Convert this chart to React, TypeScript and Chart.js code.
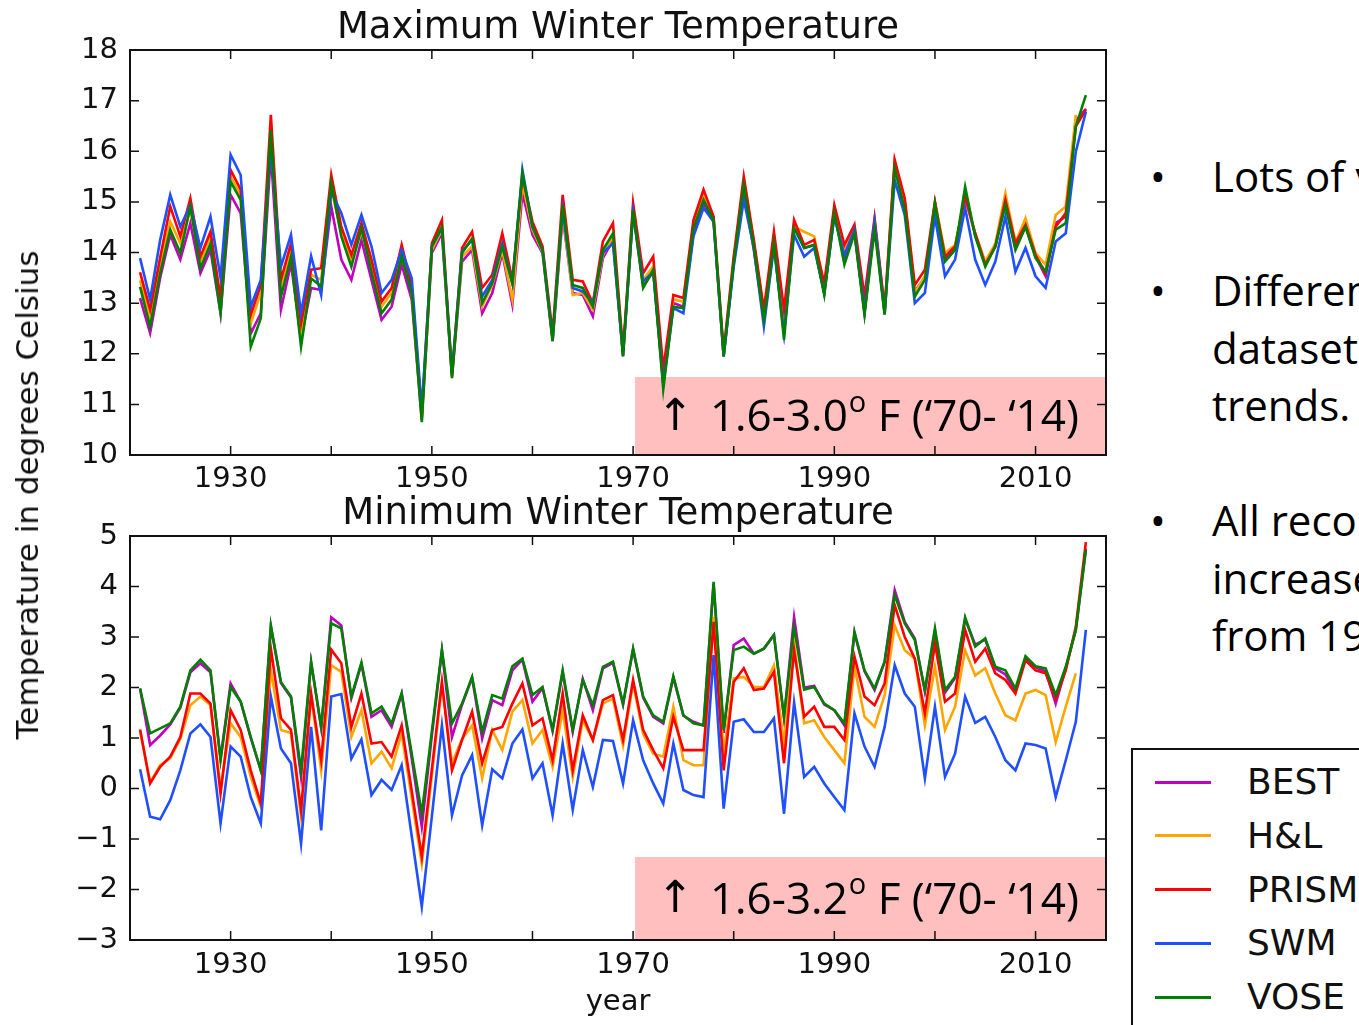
import React, { useEffect, useRef } from 'react';
import { Chart, registerables } from 'chart.js';

Chart.register(...registerables);

const YEARS = Array.from({ length: 95 }, (_, i) => 1921 + i);

const SERIES_NAMES = ['BEST', 'H&L', 'PRISM', 'SWM', 'VOSE'];
const SERIES_COLORS = ['#bf00bf', '#ffa500', '#ff0000', '#1f4fff', '#008000'];

const X_TICK_LABELS = [1930, 1950, 1970, 1990, 2010];

// ---- Maximum winter temperature (deg C), 1921-2015 ----
const MAX_BEST = [13.10, 12.41, 13.5, 14.35, 13.86, 14.58, 13.59, 14.05, 12.8, 15.14, 14.78, 12.4, 12.8, 15.96, 12.87, 13.79, 12.28, 13.3, 13.26, 14.91, 13.86, 13.46, 14.25, 13.46, 12.67, 12.93, 13.76, 13.07, 10.7, 13.99, 14.38, 11.55, 13.82, 14.05, 12.8, 13.2, 13.99, 12.97, 15.17, 14.35, 13.99, 12.25, 14.71, 13.2, 13.16, 12.74, 13.89, 14.25, 11.95, 14.78, 13.33, 13.62, 11.45, 13.0, 12.93, 14.38, 14.97, 14.61, 11.95, 13.79, 15.24, 14.05, 12.67, 14.15, 12.41, 14.55, 14.09, 14.15, 13.2, 14.75, 13.86, 14.41, 12.8, 14.58, 12.8, 15.75, 15.0, 13.24, 13.5, 14.97, 13.86, 14.09, 15.1, 14.35, 13.79, 14.12, 14.97, 14.09, 14.51, 13.92, 13.53, 14.58, 14.71, 16.6, 16.84];
const MAX_HL = [13.45, 12.74, 13.8, 14.61, 14.18, 14.84, 13.82, 14.32, 13.0, 15.5, 15.14, 12.6, 13.2, 16.3, 13.33, 14.09, 12.41, 13.56, 13.46, 15.27, 14.38, 13.86, 14.41, 13.72, 12.93, 13.2, 13.92, 13.25, 10.75, 14.05, 14.45, 11.55, 13.92, 14.12, 12.93, 13.36, 14.05, 13.07, 15.37, 14.45, 14.02, 12.3, 14.78, 13.16, 13.2, 12.87, 13.95, 14.32, 11.98, 14.9, 13.46, 13.72, 11.55, 13.07, 13.03, 14.51, 15.1, 14.68, 11.98, 13.86, 15.4, 14.18, 12.8, 14.25, 12.54, 14.51, 14.41, 14.32, 13.33, 14.85, 14.05, 14.45, 13.0, 14.64, 12.85, 15.78, 14.91, 13.2, 13.53, 15.0, 13.99, 14.15, 15.07, 14.38, 13.82, 14.18, 15.17, 14.2, 14.68, 13.99, 13.76, 14.74, 14.91, 16.72, null];
const MAX_PRISM = [13.61, 12.87, 13.9, 14.91, 14.32, 15.07, 13.92, 14.41, 13.1, 15.63, 15.24, 12.77, 13.36, 16.72, 13.46, 14.18, 12.6, 13.66, 13.69, 15.53, 14.51, 13.95, 14.58, 13.86, 13.03, 13.3, 14.15, 13.33, 10.8, 14.18, 14.64, 11.6, 14.09, 14.41, 13.3, 13.56, 14.38, 13.46, 15.5, 14.61, 14.12, 12.4, 15.14, 13.46, 13.43, 13.0, 14.22, 14.58, 12.05, 14.97, 13.59, 13.92, 11.7, 13.16, 13.1, 14.64, 15.24, 14.71, 12.05, 13.92, 15.5, 14.25, 12.87, 14.41, 12.87, 14.64, 14.15, 14.25, 13.39, 14.94, 14.15, 14.55, 13.13, 14.68, 12.9, 15.83, 15.07, 13.36, 13.66, 15.0, 13.92, 14.12, 15.1, 14.38, 13.76, 14.12, 15.04, 14.18, 14.55, 13.95, 13.59, 14.51, 14.78, 16.49, 16.82];
const MAX_SWM = [13.89, 13.07, 14.25, 15.14, 14.51, 14.94, 14.09, 14.71, 13.5, 15.93, 15.53, 12.93, 13.46, 16.06, 13.72, 14.35, 12.8, 13.93, 13.16, 15.2, 14.78, 14.15, 14.74, 14.12, 13.2, 13.46, 14.05, 13.49, 10.9, 14.12, 14.48, 11.6, 14.02, 14.25, 13.13, 13.46, 14.18, 13.39, 15.63, 14.51, 14.05, 12.3, 14.85, 13.3, 13.23, 13.0, 13.99, 14.18, 11.98, 14.8, 13.43, 13.62, 11.4, 12.9, 12.8, 14.32, 14.88, 14.61, 11.95, 13.72, 15.04, 14.09, 12.54, 14.12, 12.41, 14.35, 13.92, 14.09, 13.2, 14.71, 13.95, 14.45, 12.85, 14.61, 12.8, 15.43, 14.74, 13.0, 13.2, 14.71, 13.53, 13.86, 14.88, 13.86, 13.36, 13.82, 14.71, 13.62, 14.09, 13.53, 13.3, 14.22, 14.38, 15.99, 16.78];
const MAX_VOSE = [13.32, 12.54, 13.6, 14.45, 13.99, 14.91, 13.69, 14.18, 12.8, 15.4, 15.04, 12.14, 12.7, 16.42, 13.13, 13.92, 12.14, 13.49, 13.33, 15.37, 14.32, 13.72, 14.48, 13.62, 12.8, 13.07, 13.92, 13.2, 10.65, 14.12, 14.51, 11.52, 13.99, 14.28, 13.0, 13.39, 14.12, 13.39, 15.57, 14.51, 14.05, 12.25, 14.94, 13.36, 13.3, 12.93, 14.05, 14.38, 11.95, 14.84, 13.3, 13.66, 11.3, 12.93, 12.9, 14.48, 15.04, 14.64, 11.95, 13.79, 15.34, 14.12, 12.67, 14.18, 12.28, 14.48, 14.09, 14.15, 13.16, 14.78, 13.76, 14.38, 12.77, 14.45, 12.77, 15.66, 14.84, 13.13, 13.46, 14.97, 13.82, 14.05, 15.3, 14.32, 13.72, 14.12, 14.94, 14.05, 14.51, 13.89, 13.62, 14.45, 14.58, 16.49, 17.11];

// ---- Minimum winter temperature (deg C), 1921-2015 ----
const MIN_BEST = [1.98, 0.86, 1.05, 1.27, 1.6, 2.3, 2.48, 2.3, 0.6, 2.08, 1.72, 1.0, 0.36, 3.2, 2.09, 1.8, 0.23, 2.5, 1.2, 3.39, 3.23, 1.79, 2.47, 1.42, 1.55, 1.22, 1.87, 0.6, -0.76, 1.05, 2.72, 1.02, 1.66, 2.19, 0.99, 1.75, 1.65, 2.34, 2.55, 1.72, 1.99, 1.14, 2.3, 1.12, 2.17, 1.55, 2.38, 2.49, 1.66, 2.75, 1.8, 1.42, 1.29, 2.2, 1.44, 1.32, 1.25, 4.05, 1.1, 2.84, 2.97, 2.67, 2.77, 3.04, 1.4, 3.39, 2.0, 2.03, 1.66, 1.55, 1.25, 3.08, 2.32, 1.95, 2.51, 3.93, 3.3, 2.97, 1.92, 3.12, 1.9, 2.19, 3.35, 2.85, 2.95, 2.38, 2.26, 1.92, 2.59, 2.4, 2.32, 1.68, 2.38, 3.14, 4.75];
const MIN_HL = [1.15, 0.12, 0.46, 0.6, 0.98, 1.65, 1.82, 1.65, 0.0, 1.29, 1.02, 0.23, -0.36, 2.34, 1.16, 1.1, -0.56, 1.85, 0.36, 2.44, 2.31, 1.02, 1.55, 0.5, 0.73, 0.4, 1.09, -0.2, -1.49, 0.26, 2.05, 0.5, 0.98, 1.25, 0.2, 1.16, 0.76, 1.52, 1.75, 0.89, 1.16, 0.43, 1.55, 0.23, 1.35, 0.96, 1.68, 1.78, 0.85, 2.08, 1.08, 0.69, 0.63, 1.62, 0.56, 0.46, 0.46, 3.4, 0.7, 2.18, 2.21, 2.01, 2.01, 2.44, 0.89, 2.87, 1.29, 1.35, 1.02, 0.76, 0.5, 2.41, 1.42, 1.22, 1.85, 3.23, 2.74, 2.57, 1.25, 2.41, 1.16, 1.62, 2.74, 2.24, 2.38, 1.88, 1.45, 1.35, 1.88, 1.95, 1.85, 0.92, 1.62, 2.28, null];
const MIN_PRISM = [1.17, 0.1, 0.43, 0.63, 1.02, 1.88, 1.88, 1.68, -0.1, 1.55, 1.16, 0.36, -0.3, 2.77, 1.39, 1.16, -0.43, 1.88, 0.56, 2.75, 2.48, 1.22, 1.88, 0.89, 0.92, 0.63, 1.25, -0.05, -1.35, 0.38, 2.11, 0.36, 0.96, 1.52, 0.5, 1.16, 1.22, 1.68, 2.08, 1.25, 1.39, 0.56, 1.88, 0.36, 1.45, 0.96, 1.75, 1.85, 0.96, 2.15, 1.16, 0.76, 0.4, 1.42, 0.76, 0.76, 0.76, 3.3, 0.36, 2.11, 2.38, 1.95, 1.98, 2.31, 0.5, 2.74, 1.42, 1.62, 1.22, 1.22, 0.96, 2.61, 1.82, 1.65, 2.08, 3.63, 3.0, 2.57, 1.49, 2.87, 1.72, 1.88, 3.14, 2.51, 2.77, 2.28, 2.15, 1.88, 2.54, 2.34, 2.28, 1.78, 2.34, 3.2, 4.88];
const MIN_SWM = [0.38, -0.56, -0.61, -0.23, 0.36, 1.09, 1.27, 1.02, -0.69, 0.83, 0.63, -0.17, -0.69, 1.82, 0.79, 0.5, -1.09, 1.22, -0.83, 1.82, 1.87, 0.59, 0.97, -0.13, 0.17, -0.03, 0.46, -0.94, -2.34, -0.55, 1.25, -0.53, 0.26, 0.66, -0.73, 0.38, 0.2, 0.89, 1.17, 0.2, 0.5, -0.53, 0.89, -0.42, 0.76, 0.03, 0.96, 0.94, 0.1, 1.35, 0.56, 0.1, -0.3, 0.89, -0.03, -0.13, -0.17, 2.64, -0.4, 1.32, 1.37, 1.12, 1.12, 1.39, -0.5, 1.7, 0.23, 0.43, 0.1, -0.17, -0.43, 1.49, 0.83, 0.43, 1.22, 2.44, 1.88, 1.62, 0.2, 1.62, 0.23, 0.69, 1.82, 1.3, 1.42, 1.02, 0.56, 0.36, 0.89, 0.86, 0.79, -0.17, 0.56, 1.32, 3.14];
const MIN_VOSE = [1.98, 1.09, 1.19, 1.29, 1.62, 2.34, 2.55, 2.34, 0.56, 2.01, 1.72, 1.02, 0.36, 3.23, 2.11, 1.82, 0.36, 2.51, 1.22, 3.27, 3.17, 1.82, 2.49, 1.49, 1.62, 1.29, 1.89, 0.69, -0.5, 1.13, 2.75, 1.29, 1.68, 2.21, 1.12, 1.85, 1.78, 2.42, 2.57, 1.85, 2.01, 1.16, 2.34, 1.16, 2.15, 1.65, 2.41, 2.51, 1.68, 2.77, 1.82, 1.45, 1.32, 2.22, 1.45, 1.29, 1.25, 4.09, 1.16, 2.74, 2.81, 2.67, 2.77, 3.04, 1.42, 3.2, 1.96, 2.01, 1.68, 1.55, 1.29, 3.1, 2.34, 1.98, 2.51, 3.83, 3.27, 2.94, 1.95, 3.17, 1.95, 2.21, 3.39, 2.81, 2.97, 2.41, 2.34, 1.98, 2.62, 2.42, 2.38, 1.85, 2.41, 3.14, 4.72];

const MAX_SERIES = [MAX_BEST, MAX_HL, MAX_PRISM, MAX_SWM, MAX_VOSE];
const MIN_SERIES = [MIN_BEST, MIN_HL, MIN_PRISM, MIN_SWM, MIN_VOSE];

const BULLETS = [
  ['Lots of variability'],
  ['Different gridded', 'datasets show different', 'trends.'],
  ['All records show', 'increase in temperature', 'from 1970'],
];

const AXIS_FONT = 'DejaVu Sans';
const INK = '#111';

const framePlugin = {
  id: 'mplFrame',
  afterDatasetsDraw(chart: any) {
    const { ctx, chartArea: a, scales } = chart;
    const L = 9;
    ctx.save();
    ctx.strokeStyle = INK;
    ctx.lineWidth = 1.5;
    ctx.beginPath();
    scales.x.ticks.forEach((t: any) => {
      const px = scales.x.getPixelForValue(t.value);
      if (px <= a.left + 1 || px >= a.right - 1) return;
      ctx.moveTo(px, a.bottom);
      ctx.lineTo(px, a.bottom - L);
      ctx.moveTo(px, a.top);
      ctx.lineTo(px, a.top + L);
    });
    scales.y.ticks.forEach((t: any) => {
      const py = scales.y.getPixelForValue(t.value);
      if (py <= a.top + 1 || py >= a.bottom - 1) return;
      ctx.moveTo(a.left, py);
      ctx.lineTo(a.left + L, py);
      ctx.moveTo(a.right, py);
      ctx.lineTo(a.right - L, py);
    });
    ctx.stroke();
    ctx.lineWidth = 2;
    ctx.strokeRect(a.left, a.top, a.right - a.left, a.bottom - a.top);
    ctx.restore();
  },
};

type PanelProps = {
  title: string;
  series: (number | null)[][];
  yMin: number;
  yMax: number;
  top: number;
  height: number;
  areaBottom: number;
  titlePad: { top: number; bottom: number };
  xTickPad: number;
  xTitle?: string;
};

function Panel(p: PanelProps) {
  const ref = useRef<HTMLCanvasElement>(null);
  useEffect(() => {
    const font = { family: AXIS_FONT, size: 29 };
    const chart = new Chart(ref.current as HTMLCanvasElement, {
      type: 'line',
      data: {
        datasets: p.series.map((vals, i) => ({
          label: SERIES_NAMES[i],
          data: YEARS.map((yr, j) => ({ x: yr, y: vals[j] })),
          borderColor: SERIES_COLORS[i],
          backgroundColor: SERIES_COLORS[i],
          borderWidth: 2.6,
          pointRadius: 0,
          tension: 0,
          fill: false,
          order: 5 - i,
        })),
      },
      options: {
        responsive: false,
        animation: false,
        events: [],
        layout: { padding: { left: 0, right: 14, top: 0, bottom: 0 } },
        plugins: {
          legend: { display: false },
          tooltip: { enabled: false },
          title: {
            display: true,
            text: p.title,
            fullSize: false,
            color: INK,
            font: { family: AXIS_FONT, size: 37, weight: 'normal', lineHeight: 1.1 },
            padding: p.titlePad,
          },
        },
        scales: {
          x: {
            type: 'linear',
            min: 1920,
            max: 2017,
            grid: { display: false, drawTicks: false },
            border: { display: false },
            ticks: {
              stepSize: 10,
              includeBounds: false,
              autoSkip: false,
              maxRotation: 0,
              padding: p.xTickPad,
              color: INK,
              font,
              callback: (v: any) => (X_TICK_LABELS.includes(Number(v)) ? String(v) : ''),
            },
            title: p.xTitle
              ? { display: true, text: p.xTitle, color: INK, font, padding: { top: 0, bottom: 5 } }
              : { display: false },
            afterFit: (s: any) => {
              s.height = p.height - (p.areaBottom - p.top);
            },
          },
          y: {
            type: 'linear',
            min: p.yMin,
            max: p.yMax,
            grid: { display: false, drawTicks: false },
            border: { display: false },
            ticks: {
              stepSize: 1,
              padding: 12,
              color: INK,
              font,
              callback: (v: any) => (Number(v) < 0 ? '\u2212' + Math.abs(Number(v)) : String(v)),
            },
            afterFit: (s: any) => {
              s.width = 130;
            },
          },
        },
      } as any,
      plugins: [framePlugin],
    });
    return () => chart.destroy();
  }, []);
  return (
    <canvas
      ref={ref}
      width={1120}
      height={p.height}
      style={{ position: 'absolute', left: 0, top: p.top, width: 1120, height: p.height, display: 'block' }}
    />
  );
}

const SLIDE_FONT = '"Open Sans", Lato, sans-serif';

function Annotation({ top, height, text }: { top: number; height: number; text: string }) {
  return (
    <div
      style={{
        position: 'absolute',
        left: 657,
        top,
        height,
        display: 'flex',
        alignItems: 'center',
        fontFamily: SLIDE_FONT,
        fontSize: 44,
        color: '#000',
        whiteSpace: 'nowrap',
        zIndex: 3,
      }}
    >
      <span style={{ fontFamily: '"DejaVu Sans"', marginRight: 16, fontSize: 44 }}>↑</span>
      <span>{text}</span>
      <span style={{ fontSize: 29, position: 'relative', top: -14, marginLeft: 1 }}>o</span>
      <span>&nbsp;F (‘70- ‘14)</span>
    </div>
  );
}

export default function App() {
  return (
    <div
      style={{
        position: 'fixed',
        left: 0,
        top: 0,
        width: 1359,
        height: 1025,
        overflow: 'hidden',
        background: '#fff',
      }}
    >
      {/* pink highlight boxes behind the plots */}
      <div style={{ position: 'absolute', left: 635, top: 377, width: 471, height: 78, background: '#ffbfbf', zIndex: 0 }} />
      <div style={{ position: 'absolute', left: 635, top: 857, width: 471, height: 83, background: '#ffbfbf', zIndex: 0 }} />

      <div style={{ position: 'absolute', left: 0, top: 0, width: 1120, height: 1025, zIndex: 1 }}>
        <Panel
          title="Maximum Winter Temperature"
          series={MAX_SERIES}
          yMin={10}
          yMax={18}
          top={0}
          height={500}
          areaBottom={455}
          titlePad={{ top: 8, bottom: 1.3 }}
          xTickPad={7}
        />
        <Panel
          title="Minimum Winter Temperature"
          series={MIN_SERIES}
          yMin={-3}
          yMax={5}
          top={484}
          height={541}
          areaBottom={940}
          titlePad={{ top: 9.6, bottom: 1.7 }}
          xTickPad={8}
          xTitle="year"
        />
      </div>

      {/* shared y-axis label */}
      <div
        style={{
          position: 'absolute',
          left: 27,
          top: 495,
          transform: 'translate(-50%, -50%) rotate(-90deg)',
          fontFamily: AXIS_FONT,
          fontSize: 31,
          color: INK,
          whiteSpace: 'nowrap',
          zIndex: 2,
        }}
      >
        Temperature in degrees Celsius
      </div>

      <Annotation top={375} height={78} text="1.6-3.0" />
      <Annotation top={855} height={83} text="1.6-3.2" />

      {/* bullet text (clipped by the slide edge) */}
      {BULLETS.map((group, gi) =>
        group.map((line, li) => {
          const starts = [176, 290, 520];
          const cy = starts[gi] + li * 57.5;
          return (
            <div
              key={gi + '-' + li}
              style={{
                position: 'absolute',
                left: 1150,
                top: cy - 28,
                height: 56,
                lineHeight: '56px',
                fontFamily: SLIDE_FONT,
                fontSize: 42,
                color: '#000',
                whiteSpace: 'nowrap',
              }}
            >
              <span style={{ display: 'inline-block', width: 62, textAlign: 'left' }}>
                {li === 0 ? '•' : ''}
              </span>
              {line}
            </div>
          );
        })
      )}

      {/* legend */}
      <div
        style={{
          position: 'absolute',
          left: 1131,
          top: 748,
          width: 300,
          height: 320,
          border: '2px solid #111',
          boxSizing: 'border-box',
          background: '#fff',
        }}
      >
        {SERIES_NAMES.map((name, i) => {
          const cy = 32 + i * 53.75;
          return (
            <React.Fragment key={name}>
              <div
                style={{
                  position: 'absolute',
                  left: 22,
                  top: cy - 1.5,
                  width: 56,
                  height: 3,
                  background: SERIES_COLORS[i],
                }}
              />
              <div
                style={{
                  position: 'absolute',
                  left: 114,
                  top: cy - 22,
                  height: 44,
                  lineHeight: '44px',
                  fontFamily: AXIS_FONT,
                  fontSize: 36,
                  color: INK,
                  whiteSpace: 'nowrap',
                }}
              >
                {name}
              </div>
            </React.Fragment>
          );
        })}
      </div>
    </div>
  );
}
